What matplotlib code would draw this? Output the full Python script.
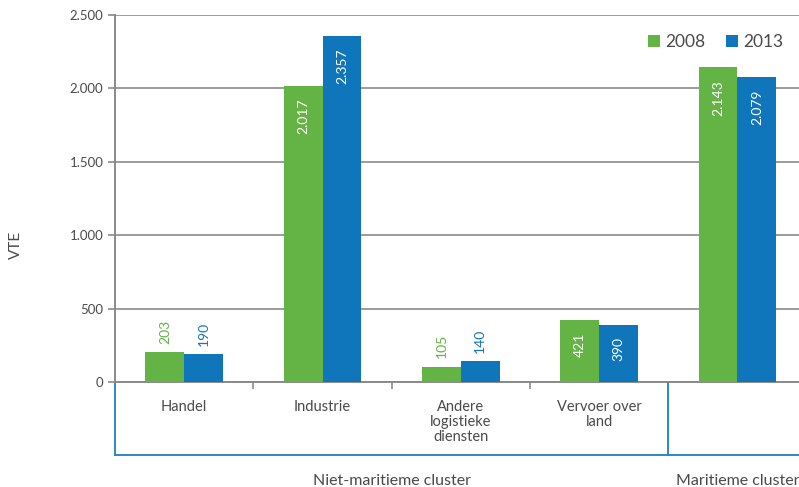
import matplotlib.pyplot as plt
import numpy as np

categories = ["Handel", "Industrie", "Andere\nlogistieke\ndiensten", "Vervoer over\nland", ""]
years = ["2008", "2013"]
vte_2008 = [203, 2017, 105, 421, 2143]
vte_2013 = [190, 2357, 140, 390, 2079]
clusters = ["Niet-maritieme cluster", "Maritieme cluster"]

green = "#63b345"
blue = "#0f76bb"
frame_blue = "#2b87c8"
gray = "#8a8a8a"
txt = "#4a4a4a"

plt.rcParams['font.family'] = ['Lato', 'DejaVu Sans']


def fmt(v):
    return f"{v:,}".replace(",", ".")


def main():
    fig = plt.figure(figsize=(7.99, 4.87), dpi=100)
    ax = fig.add_axes([0.144, 0.2156, 0.856, 0.7535])

    x = np.arange(len(categories))
    w = 0.28
    bars1 = ax.bar(x - w / 2, vte_2008, w, color=green, label=years[0], zorder=3)
    bars2 = ax.bar(x + w / 2, vte_2013, w, color=blue, label=years[1], zorder=3)

    # value labels: above short bars in bar colour, inside tall bars in white
    for bars, col in ((bars1, green), (bars2, blue)):
        for b in bars:
            h = b.get_height()
            cx = b.get_x() + b.get_width() / 2
            if h < 300:
                ax.annotate(fmt(h), (cx, h), xytext=(0, 6), textcoords="offset points",
                            rotation=90, ha="center", va="bottom", color=col, fontsize=10)
            else:
                ax.annotate(fmt(h), (cx, h), xytext=(0, -9), textcoords="offset points",
                            rotation=90, ha="center", va="top", color="white", fontsize=10)

    ax.set_ylim(0, 2500)
    ax.set_xlim(-0.5, 4.445)
    ax.set_yticks(np.arange(0, 2501, 500))
    ax.set_yticklabels([fmt(v) for v in range(0, 2501, 500)], color=txt, fontsize=9.5)
    ax.yaxis.grid(True, color=gray, linewidth=1.2, zorder=0)
    ax.tick_params(axis="y", length=5, color=gray, width=1.2)

    ax.set_xticks(x)
    ax.set_xticklabels(categories, color=txt, fontsize=10.5, linespacing=1.1, va="top")
    ax.tick_params(axis="x", length=0, pad=13)
    ax.set_xticks([0.5, 1.5, 2.5], minor=True)
    ax.tick_params(axis="x", which="minor", length=5, color=gray, width=1.2)

    for s in ("top", "right"):
        ax.spines[s].set_visible(False)
    for s in ("left", "bottom"):
        ax.spines[s].set_color(gray)
        ax.spines[s].set_linewidth(1.4)

    ax.set_ylabel("VTE", color=txt, fontsize=11)
    ax.yaxis.set_label_coords(-0.134, 0.373)

    # cluster frame below the axis
    tr = ax.get_xaxis_transform()
    ybot = -0.2
    ax.plot([-0.5, -0.5], [0, ybot], color=frame_blue, lw=1.4, transform=tr, clip_on=False)
    ax.plot([-0.5, 4.445], [ybot, ybot], color=frame_blue, lw=1.4, transform=tr, clip_on=False)
    ax.plot([3.5, 3.5], [0, ybot], color=frame_blue, lw=1.4, transform=tr, clip_on=False)
    ax.text(1.5, -0.27, clusters[0], transform=tr, ha="center", va="center", color=txt, fontsize=11.5)
    ax.text(4.0, -0.27, clusters[1], transform=tr, ha="center", va="center", color=txt, fontsize=11.5)

    leg = ax.legend(loc="upper right", bbox_to_anchor=(1.0, 0.99), frameon=False, ncol=2,
                    fontsize=12.5, handlelength=0.7, handleheight=0.7, handletextpad=0.3,
                    columnspacing=1.2)
    for t in leg.get_texts():
        t.set_color(txt)

    fig.savefig("out.png", dpi=100)


if __name__ == "__main__":
    main()
